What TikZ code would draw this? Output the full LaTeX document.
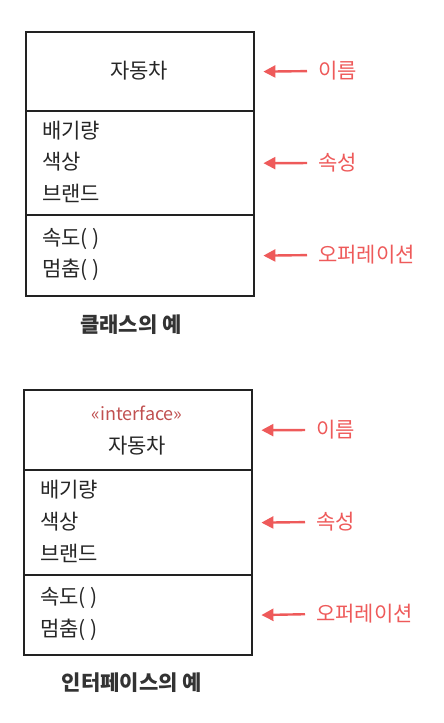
\documentclass[tikz,border=0pt]{standalone}
\usepackage{fontspec}
\setmainfont{Noto Sans CJK KR}
\usetikzlibrary{arrows.meta}
\definecolor{lblred}{HTML}{EE5A5A}
\definecolor{ifred}{HTML}{C05050}
\definecolor{boxline}{HTML}{222222}
\tikzset{
  comp/.style={draw=boxline, line width=2.4pt, minimum width=228pt, inner sep=0pt, anchor=north west},
  txt/.style={font=\fontsize{21}{24}\selectfont, text=black!85, inner sep=0pt, anchor=west},
  lbl/.style={font=\fontsize{21}{24}\selectfont, text=lblred, inner sep=0pt, anchor=west},
  captxt/.style={font=\fontsize{21}{24}\selectfont\bfseries, text=black!80, inner sep=0pt},
  arr/.style={draw=lblred, line width=2.4pt, -{Triangle[length=12pt,width=12pt]}, shorten <=11pt, shorten >=8pt}
}
\begin{document}
\begin{tikzpicture}[x=1pt,y=-1pt]
\useasboundingbox (0,0) rectangle (444,723);
% ---- class ----
\node[comp, minimum height=79pt] (c1) at (25,31) {};
\node[comp, minimum height=104pt] (c2) at (25,110) {};
\node[comp, minimum height=81pt] (c3) at (25,214) {};
\node[txt, anchor=center] (c1n) at (139,71) {자동차};
\node[txt] (c2a) at (42,131) {배기량};
\node[txt] (c2b) at (42,162) {색상};
\node[txt] (c2c) at (42,193) {브랜드};
\node[txt] (c3a) at (42,239) {속도( )};
\node[txt] (c3b) at (42,270) {멈춤( )};
\node[captxt] (cc) at (131,325) {클래스의 예};
\node[lbl] (l1) at (318,71) {이름};
\node[lbl] (l2) at (318,163) {속성};
\node[lbl] (l3) at (318,255) {오퍼레이션};
\draw[arr] (l1.west) -- (c1.east);
\draw[arr] (l2.west) -- (c2.east);
\draw[arr] (l3.west) -- (c3.east);
% ---- interface ----
\node[comp, minimum height=80pt] (i1) at (23,389) {};
\node[comp, minimum height=105pt] (i2) at (23,469) {};
\node[comp, minimum height=80pt] (i3) at (23,574) {};
\node[txt, anchor=center, font=\fontsize{18}{20}\selectfont, text=ifred] (i1s) at (137,413) {«interface»};
\node[txt, anchor=center] (i1n) at (137,446) {자동차};
\node[txt] (i2a) at (40,490) {배기량};
\node[txt] (i2b) at (40,522) {색상};
\node[txt] (i2c) at (40,553) {브랜드};
\node[txt] (i3a) at (40,598) {속도( )};
\node[txt] (i3b) at (40,630) {멈춤( )};
\node[captxt] (ic) at (132,683) {인터페이스의 예};
\node[lbl] (m1) at (316,430) {이름};
\node[lbl] (m2) at (316,522) {속성};
\node[lbl] (m3) at (316,614) {오퍼레이션};
\draw[arr] (m1.west) -- (i1.east);
\draw[arr] (m2.west) -- (i2.east);
\draw[arr] (m3.west) -- (i3.east);
\end{tikzpicture}
\end{document}
